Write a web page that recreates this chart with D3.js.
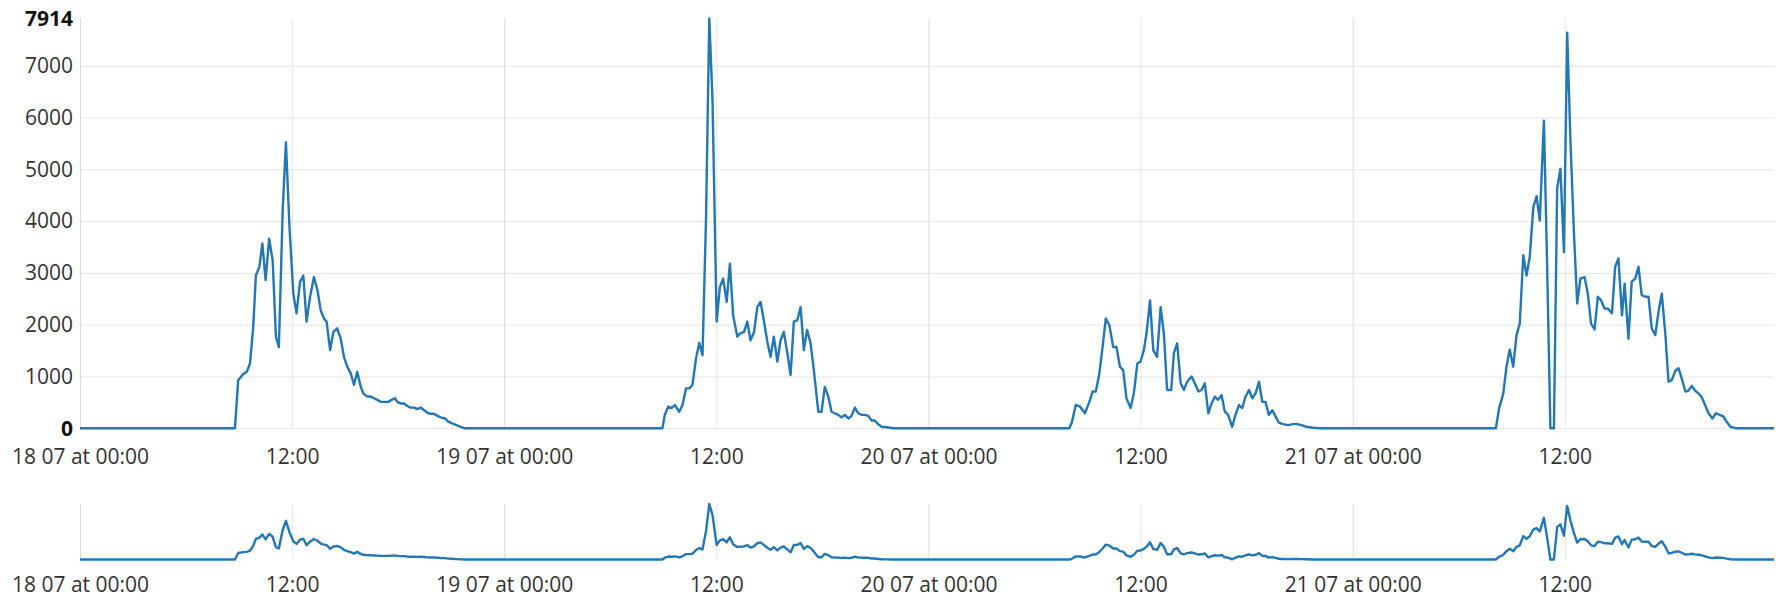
<!DOCTYPE html>
<html>
<head>
<meta charset="utf-8">
<script src="https://cdn.jsdelivr.net/npm/d3@7"></script>
<style>
  body { margin: 0; background: #fff; }
  svg { display: block; font-family: "Open Sans", sans-serif; }
</style>
</head>
<body>
<div id="chart"></div>
<script>
// days shown on the chart
const days = ["2021-07-18", "2021-07-19", "2021-07-20", "2021-07-21"];

// [minute of day, value]
const day18 = [[0,0],[526,0],[537,930],[554,1050],[566,1090],[577,1250],[588,1960],[597,2950],[609,3120],[619,3570],[630,2860],[642,3660],[654,3240],[665,1770],[675,1570],[688,4210],[699,5520],[711,3890],[724,2600],[735,2220],[747,2830],[758,2950],[769,2060],[781,2540],[794,2920],[806,2670],[817,2280],[828,2120],[837,2060],[849,1510],[860,1860],[873,1930],[885,1730],[896,1380],[907,1190],[919,1060],[930,840],[941,1090],[953,800],[962,670],[973,620],[987,610],[998,580],[1009,550],[1021,510],[1032,510],[1047,510],[1058,550],[1069,580],[1077,510],[1088,480],[1100,480],[1111,430],[1122,400],[1134,400],[1145,370],[1156,400],[1168,350],[1179,300],[1190,280],[1201,280],[1213,240],[1224,210],[1239,190],[1250,130],[1261,100],[1278,60],[1295,20],[1307,0]];
const day19 = [[537,0],[545,260],[557,420],[568,390],[579,450],[594,320],[605,450],[617,770],[628,770],[639,840],[651,1350],[662,1650],[673,1410],[685,4080],[696,7914],[707,6330],[721,2060],[732,2730],[743,2890],[755,2440],[766,3180],[777,2180],[791,1770],[800,1830],[814,1860],[825,2060],[836,1700],[848,1860],[859,2340],[870,2440],[881,2090],[893,1670],[904,1380],[915,1770],[927,1290],[938,1700],[949,1860],[961,1450],[972,1030],[983,2060],[995,2090],[1006,2340],[1017,1510],[1028,1900],[1040,1640],[1051,1120],[1066,320],[1077,320],[1088,800],[1100,610],[1111,320],[1122,290],[1134,260],[1145,210],[1156,260],[1168,190],[1179,240],[1190,400],[1202,290],[1213,260],[1224,260],[1236,240],[1247,150],[1258,150],[1269,80],[1281,30],[1298,20],[1320,0]];
const day20 = [[478,0],[486,100],[500,450],[514,420],[531,290],[546,510],[557,710],[568,710],[580,1060],[591,1570],[602,2120],[614,1990],[627,1570],[638,1570],[650,1190],[661,1120],[672,580],[686,390],[697,670],[709,1250],[720,1290],[731,1510],[740,1830],[752,2470],[763,1510],[776,1380],[788,2340],[799,1830],[810,740],[824,740],[833,1450],[844,1640],[856,870],[867,740],[878,900],[893,1000],[904,870],[916,710],[927,740],[938,870],[950,290],[961,480],[972,610],[983,550],[995,640],[1006,320],[1017,260],[1031,30],[1042,260],[1054,450],[1065,390],[1076,610],[1088,740],[1099,580],[1110,670],[1122,900],[1133,510],[1144,510],[1155,260],[1167,350],[1178,230],[1189,110],[1204,80],[1221,60],[1236,80],[1252,80],[1266,60],[1283,30],[1306,10],[1329,0]];
const day21 = [[486,0],[497,390],[511,670],[522,1190],[533,1520],[545,1190],[556,1800],[567,2020],[579,3340],[590,2950],[601,3310],[613,4270],[624,4480],[635,4010],[649,5940],[660,3120],[671,0],[683,0],[694,4630],[705,5010],[717,3400],[728,7640],[739,5560],[751,3760],[762,2410],[773,2890],[787,2920],[798,2600],[809,2020],[821,1910],[832,2540],[843,2470],[855,2310],[866,2310],[880,2220],[891,3120],[902,3280],[914,2180],[923,2790],[936,1730],[947,2830],[959,2890],[970,3120],[981,2570],[993,2540],[1004,2540],[1015,1930],[1027,1800],[1038,2250],[1049,2600],[1061,1830],[1072,900],[1083,930],[1095,1110],[1106,1160],[1117,960],[1129,710],[1140,730],[1151,820],[1162,730],[1174,670],[1185,600],[1196,450],[1208,290],[1221,190],[1233,290],[1246,260],[1258,230],[1269,130],[1282,30],[1303,0],[1430,0]];

// y tick values (0 and max are bold)
const yTicks = [0, 1000, 2000, 3000, 4000, 5000, 6000, 7000, 7914];
const yMax = 7914;
// x tick times
const xTicks = ["2021-07-18 00:00", "2021-07-18 12:00", "2021-07-19 00:00", "2021-07-19 12:00",
                "2021-07-20 00:00", "2021-07-20 12:00", "2021-07-21 00:00", "2021-07-21 12:00"];
const xStart = "2021-07-18 00:00", xEnd = "2021-07-21 23:50";

const parseDay = d3.utcParse("%Y-%m-%d");
const parseTime = d3.utcParse("%Y-%m-%d %H:%M");

// build one series
const data = [];
[day18, day19, day20, day21].forEach(function(pts, i) {
  const base = parseDay(days[i]).getTime();
  pts.forEach(p => data.push({ date: new Date(base + p[0] * 60000), value: p[1] }));
});

const W = 1784, H = 599;
const left = 80, right = 1774;
const mainTop = 18.4, mainBottom = 428.3;
const ovTop = 504, ovBottom = 559.5;
const font = '"Open Sans", sans-serif';

const svg = d3.select("#chart").append("svg")
  .attr("width", W)
  .attr("height", H);

const x = d3.scaleUtc()
  .domain([parseTime(xStart), parseTime(xEnd)])
  .range([left, right]);

const y = d3.scaleLinear().domain([0, yMax]).range([mainBottom, mainTop]);
const yOv = d3.scaleLinear().domain([0, yMax]).range([ovBottom, ovTop]);

const fmtDay = d3.utcFormat("%d %m at %H:%M"), fmtHour = d3.utcFormat("%H:%M");
const xFormat = d => d.getUTCHours() === 0 ? fmtDay(d) : fmtHour(d);
const tickDates = xTicks.map(parseTime);

function styleX(g) {
  g.attr("font-family", font).attr("font-size", 21);
  g.select(".domain").remove();
  g.selectAll(".tick line")
    .attr("stroke", d => d.getUTCHours() === 0 ? "#dadada" : "#e6e6e6");
  g.selectAll(".tick text")
    .attr("fill", "#333");
}

// main y grid + labels
svg.append("g")
  .attr("transform", `translate(${left},0)`)
  .call(d3.axisLeft(y).tickValues(yTicks).tickSize(-(right - left)).tickPadding(7).tickFormat(d3.format("d")))
  .attr("font-family", font)
  .attr("font-size", 21)
  .call(g => g.select(".domain").remove())
  .call(g => g.selectAll(".tick line")
    .attr("stroke", "#e4e4e4")
    .attr("stroke-opacity", d => d === yMax ? 0 : 1))
  .call(g => g.selectAll(".tick text")
    .attr("fill", d => (d === 0 || d === yMax) ? "#111" : "#333")
    .attr("font-weight", d => (d === 0 || d === yMax) ? 700 : 400));

// main x grid + labels
svg.append("g")
  .attr("transform", `translate(0,${mainBottom})`)
  .call(d3.axisBottom(x).tickValues(tickDates).tickSize(-(mainBottom - mainTop)).tickPadding(20.5).tickFormat(xFormat))
  .call(styleX);

// overview x grid + labels
svg.append("g")
  .attr("transform", `translate(0,${ovBottom})`)
  .call(d3.axisBottom(x).tickValues(tickDates).tickSize(-(ovBottom - ovTop)).tickPadding(18).tickFormat(xFormat))
  .call(styleX);

// lines
const line = d3.line().x(d => x(d.date)).y(d => y(d.value));
const lineOv = d3.line().x(d => x(d.date)).y(d => yOv(d.value));

svg.append("path")
  .datum(data)
  .attr("fill", "none")
  .attr("stroke", "#2277b4")
  .attr("stroke-width", 2.4)
  .attr("stroke-linejoin", "round")
  .attr("d", line);

svg.append("path")
  .datum(data)
  .attr("fill", "none")
  .attr("stroke", "#2277b4")
  .attr("stroke-width", 2.4)
  .attr("stroke-linejoin", "round")
  .attr("d", lineOv);
</script>
</body>
</html>
